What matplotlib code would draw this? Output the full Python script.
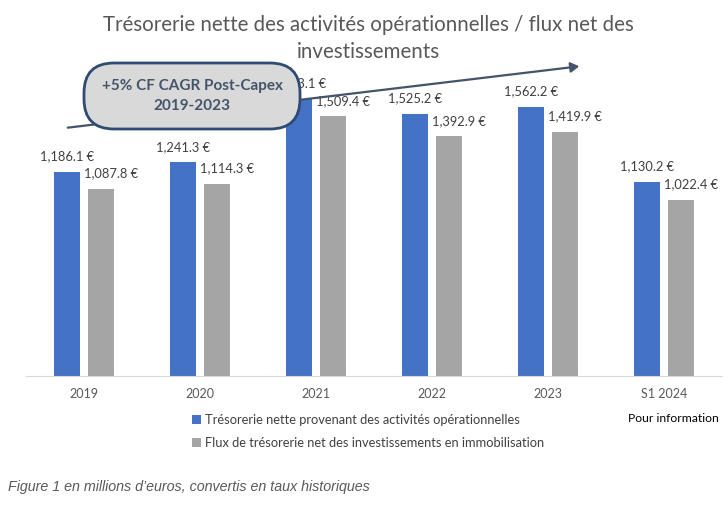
"""Trésorerie nette / flux net des investissements: grouped bars with CAGR callout."""

import matplotlib

matplotlib.use("Agg")

import matplotlib.pyplot as plt  # noqa: E402
from matplotlib.patches import FancyArrowPatch, FancyBboxPatch  # noqa: E402
import numpy as np  # noqa: E402

categories = ["2019", "2020", "2021", "2022", "2023", "S1 2024"]
operating_cash = [1186.1, 1241.3, 1613.1, 1525.2, 1562.2, 1130.2]
post_capex_cash = [1087.8, 1114.3, 1509.4, 1392.9, 1419.9, 1022.4]
series_labels = [
    "Trésorerie nette provenant des activités opérationnelles",
    "Flux de trésorerie net des investissements en immobilisation",
]

BLUE = "#4472C4"
GRAY = "#A5A5A5"
TEXT = "#404040"

plt.rcParams["font.family"] = ["Lato", "DejaVu Sans"]

fig = plt.figure(figsize=(7.28, 5.08), dpi=100)
ax = fig.add_axes([26 / 728, 132 / 508, 696 / 728, 316 / 508])

x = np.arange(len(categories))
width = 0.225
offset = 0.149
ax.bar(x - offset, operating_cash, width, color=BLUE, label=series_labels[0])
ax.bar(x + offset, post_capex_cash, width, color=GRAY, label=series_labels[1])

for xi, v in zip(x, operating_cash):
    ax.annotate(f"{v:,.1f} €", (xi - offset, v), xytext=(0, 7), textcoords="offset points",
                ha="center", va="bottom", fontsize=9.3, color=TEXT)
for xi, v in zip(x, post_capex_cash):
    ax.annotate(f"{v:,.1f} €", (xi + offset + 0.08, v), xytext=(0, 7), textcoords="offset points",
                ha="center", va="bottom", fontsize=9.3, color=TEXT)

ax.set_xlim(-0.5, len(categories) - 0.5)
ax.set_ylim(0, 316 / 0.172)
ax.set_xticks(x, categories, fontsize=9, color="#595959")
ax.tick_params(axis="x", length=0, pad=9)
ax.set_yticks([])
for side in ("top", "left", "right"):
    ax.spines[side].set_visible(False)
ax.spines["bottom"].set_color("#D9D9D9")

fig.text(368 / 728, 1 - 25 / 508, "Trésorerie nette des activités opérationnelles / flux net des",
         ha="center", va="center", fontsize=14.8, color="#595959")
fig.text(368 / 728, 1 - 52 / 508, "investissements",
         ha="center", va="center", fontsize=14.8, color="#595959")

# CAGR arrow, drawn under the callout box
fig.add_artist(FancyArrowPatch(
    (65 / 728, 1 - 128 / 508), (582 / 728, 1 - 66 / 508), transform=fig.transFigure,
    arrowstyle="-|>,head_length=5,head_width=3", color="#44546A", lw=1.6, zorder=5))
fig.add_artist(FancyBboxPatch(
    (0.84, 3.79), 2.16, 0.66, boxstyle="round,pad=0,rounding_size=0.3",
    transform=fig.dpi_scale_trans, fc="#D9D9D9", ec="#2F4B73", lw=2, zorder=6))
fig.text(192 / 728, 1 - 96 / 508, "+5% CF CAGR Post-Capex\n2019-2023",
         ha="center", va="center", fontsize=11, fontweight="bold", color="#44546A",
         linespacing=1.6, zorder=7)

ax.legend(loc="upper left", bbox_to_anchor=(180 / 728, 1 - 402 / 508), bbox_transform=fig.transFigure,
          frameon=False, fontsize=9.3, handlelength=0.7, handleheight=0.7, handletextpad=0.3,
          labelspacing=0.9, labelcolor=TEXT)
fig.text(628 / 728, 1 - 419 / 508, "Pour information", fontsize=8.7, color="black", va="center")

fig.text(8 / 728, 1 - 487 / 508, "Figure 1 en millions d\u2019euros, convertis en taux historiques",
         fontsize=10.3, style="italic", color="#595959", va="center", family="Liberation Sans")

fig.savefig("out.png", dpi=100, facecolor="white")
plt.close(fig)
